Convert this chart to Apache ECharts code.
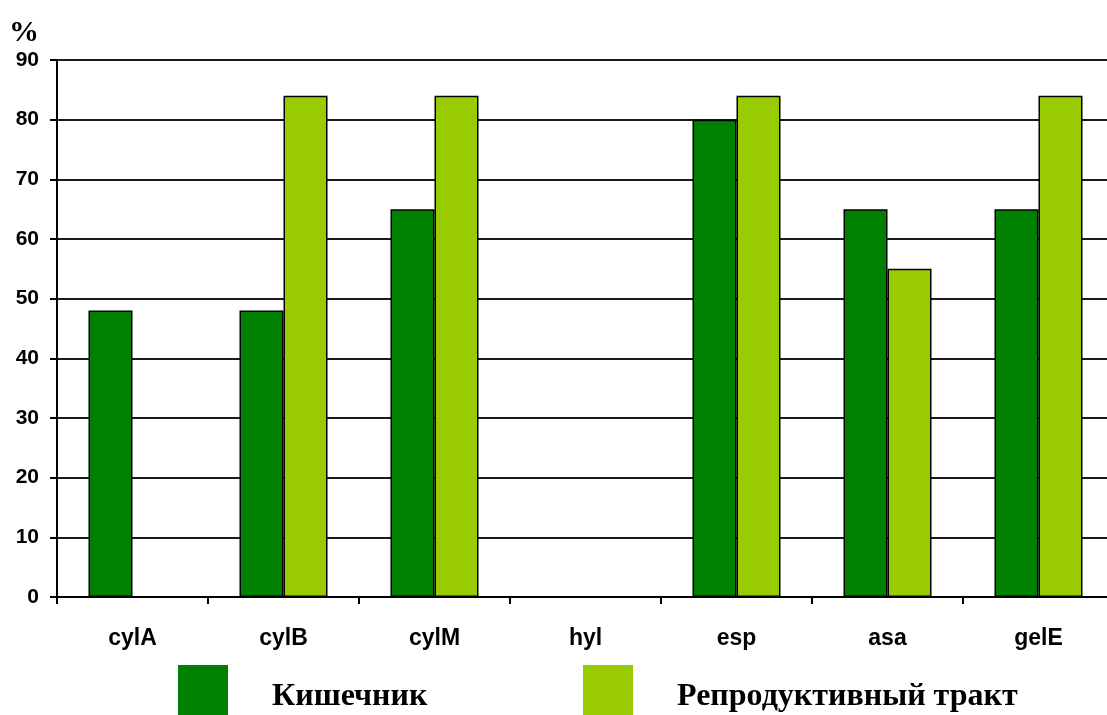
<!DOCTYPE html>
<html>
<head>
<meta charset="utf-8">
<script src="https://cdn.jsdelivr.net/npm/echarts@6/dist/echarts.min.js"></script>
<style>
  html, body { margin: 0; padding: 0; background: #fff; overflow: hidden; }
  /* the plot area runs slightly past the right edge of the window */
  #chart { width: 1114px; height: 715px; }
</style>
</head>
<body>
<div id="chart"></div>
<script>
// Gene categories along the x axis
const categories = ['cylA', 'cylB', 'cylM', 'hyl', 'esp', 'asa', 'gelE'];
// Share of isolates, %
const intestine = [48, 48, 65, 0, 80, 65, 65];
const reproductive = [0, 84, 84, 0, 84, 55, 84];
const yTicks = { min: 0, max: 90, step: 10 };

const seriesNames = ['Кишечник', 'Репродуктивный тракт'];
const colors = ['#008000', '#99CC00'];

const chart = echarts.init(document.getElementById('chart'), null, { renderer: 'canvas' });

const legendText = {
  color: '#000',
  rich: {
    t: {
      fontFamily: '"Liberation Serif", "Times New Roman", serif',
      fontWeight: 'bold',
      fontSize: 32,
      color: '#000',
      padding: [14, 0, 0, 39]
    }
  }
};

function legendAt(name, left) {
  return {
    data: [name],
    left: left, top: 665,
    padding: 0,
    icon: 'rect', itemWidth: 50, itemHeight: 50,
    itemStyle: { borderWidth: 0 },
    selectedMode: false,
    formatter: '{t|{name}}',
    textStyle: legendText
  };
}

chart.setOption({
  animation: false,
  backgroundColor: '#fff',
  color: colors,
  title: {
    text: '%',
    left: 9,
    top: 18,
    padding: 0,
    textStyle: {
      fontFamily: '"Liberation Serif", "Times New Roman", serif',
      fontWeight: 'bold',
      fontSize: 30,
      color: '#000'
    }
  },
  legend: [legendAt(seriesNames[0], 178), legendAt(seriesNames[1], 583)],
  grid: { left: 57, top: 60, right: 0, bottom: 118, containLabel: false },
  xAxis: {
    type: 'category',
    data: categories,
    axisLine: { lineStyle: { color: '#000', width: 2 } },
    axisTick: { show: true, length: 7, lineStyle: { color: '#000', width: 2 } },
    axisLabel: {
      margin: 30,
      fontFamily: '"Liberation Sans", Arial, sans-serif',
      fontWeight: 'bold',
      fontSize: 23,
      color: '#000'
    },
    splitLine: { show: false }
  },
  yAxis: {
    type: 'value',
    min: yTicks.min,
    max: yTicks.max,
    interval: yTicks.step,
    axisLine: { show: true, lineStyle: { color: '#000', width: 2 } },
    axisTick: { show: true, length: 7, lineStyle: { color: '#000', width: 2 } },
    axisLabel: {
      margin: 18,
      fontFamily: '"Liberation Sans", Arial, sans-serif',
      fontWeight: 'bold',
      fontSize: 21,
      color: '#000'
    },
    splitLine: { show: true, lineStyle: { color: '#1a1a1a', width: 2 } }
  },
  series: [
    {
      name: seriesNames[0],
      type: 'bar',
      data: intestine,
      barWidth: 44,
      barGap: '0%',
      itemStyle: { color: colors[0], borderColor: '#000', borderWidth: 1.5 },
      emphasis: { disabled: true }
    },
    {
      name: seriesNames[1],
      type: 'bar',
      data: reproductive,
      barWidth: 44,
      barGap: '0%',
      itemStyle: { color: colors[1], borderColor: '#000', borderWidth: 1.5 },
      emphasis: { disabled: true }
    }
  ]
});
</script>
</body>
</html>
